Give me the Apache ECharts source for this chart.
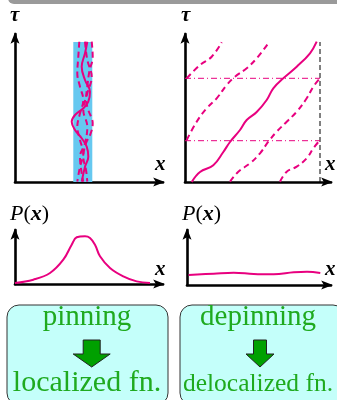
<!DOCTYPE html>
<html>
<head>
<meta charset="utf-8">
<script src="https://cdn.jsdelivr.net/npm/echarts@6/dist/echarts.min.js"></script>
<style>
  html, body { margin: 0; padding: 0; background: #fff; }
  #main { width: 337px; height: 400px; }
</style>
</head>
<body>
<div id="main"></div>
<script>
// pinned worldlines (left panel), units: x right of the axis, tau above the axis
const pinnedBand = [58.3, 77.3, 140];
const pinnedSolid = [[72.3,140.3],[70,128.7],[66.7,115.3],[70,102],[75,90.3],[73.3,80.3],[68.3,73.7],[60,67],[56.7,60.3],[60,52],[66.7,43.7],[71.7,35.3],[73.3,25.3],[70,15.3],[66.7,0.3]];
const pinnedDash1 = [[76.7,140.3],[77.7,125.3],[74.3,110.3],[72.3,95.3],[71,82],[73.3,72],[77.7,58.7],[75.7,48.7],[71,38.7],[68.3,25.3],[71,12],[72.3,0.3]];
const pinnedDash2 = [[64.3,140.3],[63.3,125.3],[62.3,108.7],[65,95.3],[68.3,82],[65,68.7],[62.3,55.3],[65,42],[68.3,28.7],[65,15.3],[62.3,0.3]];
const pinnedDash3 = [[70,140.3],[72.3,122],[76.7,105.3],[72.3,88.7],[68.3,72],[72.3,55.3],[70,38.7],[65,25.3],[66.7,8.7],[68.3,0.3]];

// depinned worldline winding around the periodic box (right panel)
const boxL = 135, boxT = 140;
const windTaus = [41.3, 103.7];
const windSolid = [[6.7,0],[15,10],[28.3,16.7],[38.3,30],[45,40],[55,52],[61.7,62],[71.7,70],[81.7,82],[88.3,93.7],[98.3,103.7],[111.7,115.3],[125,128.7],[131.7,140.3]];
const windDash1 = [[1.7,103.7],[15,117],[26.7,125.3],[36.7,139.7]];
const windDash2 = [[1.7,42],[11.7,60.3],[21.7,73.7],[31.7,83.7],[41.7,97],[50,105.3],[61.7,113.7],[71.7,123.7],[83.3,138.7]];
const windDash3 = [[45,0.3],[53.3,10.3],[65,18.7],[75,28.7],[83.3,40.3],[91.7,50.3],[101.7,60.3],[111.7,70.3],[121.7,83.7],[128.3,95.3],[135,103.7]];
const windDash4 = [[95,0.3],[101.7,10.3],[111.7,15.3],[121.7,23.7],[128.3,33.7],[135,42]];

// distributions P(x)
const pLocal = [[0,1],[18.3,4.3],[35,11],[48.3,24.3],[56.7,39.3],[61.7,46.7],[70,47.7],[75,46],[80,39.3],[85,27.7],[95,16],[108.3,7.7],[121.7,2.6],[135,1]];
const pFlat = [[1.7,10],[26.7,11.3],[46.7,12.3],[66.7,11],[86.7,10.7],[106.7,12.7],[120,13.3],[133.3,12]];

const pink = '#e8007f';
const green = '#1faa1f';
const serif = 'Liberation Serif';

const chart = echarts.init(document.getElementById('main'));

function axisPair(idx, xmax, ymax) {
  const line = {
    show: true,
    symbol: ['none', 'path://M5,0 L10,13 L5,10 L0,13 Z'],
    symbolSize: [9, 12],
    symbolOffset: [0, -4],
    lineStyle: { color: '#000', width: 2.6 }
  };
  const base = {
    type: 'value', min: 0, gridIndex: idx,
    axisLine: line, axisTick: { show: false },
    axisLabel: { show: false }, splitLine: { show: false }
  };
  return {
    x: Object.assign({}, base, { max: xmax }),
    y: Object.assign({}, base, { max: ymax })
  };
}

const axes = [axisPair(0, 148, 148), axisPair(1, 146, 148), axisPair(2, 148, 54), axisPair(3, 144, 55)];

function curve(idx, data, dashed, width) {
  return {
    type: 'line', xAxisIndex: idx, yAxisIndex: idx, data: data,
    smooth: 0.4, showSymbol: false, silent: true,
    lineStyle: { color: pink, width: width || 2, type: dashed ? [6, 4] : 'solid' }
  };
}

const series = [
  {
    type: 'line', xAxisIndex: 0, yAxisIndex: 0, data: [], silent: true,
    markArea: {
      silent: true,
      itemStyle: { color: '#66c8f0' },
      data: [[{ coord: [pinnedBand[0], 0] }, { coord: [pinnedBand[1], pinnedBand[2]] }]]
    }
  },
  curve(0, pinnedDash1, true),
  curve(0, pinnedDash2, true),
  curve(0, pinnedDash3, true),
  curve(0, pinnedSolid, false),
  {
    type: 'line', xAxisIndex: 1, yAxisIndex: 1, showSymbol: false, silent: true,
    data: [[boxL, 0], [boxL, boxT]],
    lineStyle: { color: '#000', width: 1, type: [5, 3] }
  }
];
windTaus.forEach(function (t) {
  series.push({
    type: 'line', xAxisIndex: 1, yAxisIndex: 1, showSymbol: false, silent: true,
    data: [[0, t], [boxL, t]],
    lineStyle: { color: pink, width: 1, type: [6, 3, 1, 3] }
  });
});
series.push(curve(1, windDash1, true), curve(1, windDash2, true), curve(1, windDash3, true), curve(1, windDash4, true), curve(1, windSolid, false));
series.push(curve(2, pLocal, false), curve(3, pFlat, false));

function label(x, y, text, size) {
  return {
    type: 'text', x: x, y: y,
    style: {
      text: text, fill: '#000', verticalAlign: 'middle',
      font: 'italic bold ' + size + 'px "' + serif + '"'
    }
  };
}

function pLabel(x, y) {
  return {
    type: 'text', x: x, y: y,
    style: {
      text: '{i|P}{r|(}{b|x}{r|)}', verticalAlign: 'middle',
      rich: {
        i: { font: 'italic 22px "' + serif + '"', fill: '#000' },
        r: { font: '22px "' + serif + '"', fill: '#000' },
        b: { font: 'italic bold 22px "' + serif + '"', fill: '#000' }
      }
    }
  };
}

function box(x, w) {
  return {
    type: 'rect', shape: { x: x, y: 305, width: w, height: 100, r: 12 },
    style: { fill: '#c4fffa', stroke: '#333', lineWidth: 1 }
  };
}

function arrow(cx, shaftW, headW) {
  const s = shaftW / 2, h = headW / 2;
  return {
    type: 'polygon',
    shape: { points: [[cx - s, 340], [cx + s, 340], [cx + s, 354], [cx + h, 354], [cx, 367], [cx - h, 354], [cx - s, 354]] },
    style: { fill: '#00a000', stroke: '#222', lineWidth: 1 }
  };
}

function word(cx, y, text, size) {
  return {
    type: 'text', x: cx, y: y,
    style: { text: text, fill: green, align: 'center', verticalAlign: 'middle', font: size + 'px "' + serif + '"' }
  };
}

chart.setOption({
  animation: false,
  grid: [
    { left: 15, top: 34, width: 148, height: 148 },
    { left: 185, top: 34, width: 146, height: 148 },
    { left: 15, top: 230, width: 148, height: 54 },
    { left: 187, top: 230, width: 144, height: 55 }
  ],
  xAxis: axes.map(function (a) { return a.x; }),
  yAxis: axes.map(function (a) { return a.y; }),
  series: series,
  graphic: [
    { type: 'rect', shape: { x: 8, y: -10, width: 340, height: 14, r: 6 }, style: { fill: '#9a9a9a' } },
    label(10, 16, 'τ', 21),
    label(181, 16, 'τ', 21),
    label(155, 165, 'x', 21),
    label(325, 165, 'x', 21),
    label(155, 270, 'x', 21),
    label(325, 270, 'x', 21),
    pLabel(10, 214),
    pLabel(182, 214),
    box(7, 161),
    box(180, 165),
    word(87, 317, 'pinning', 29),
    word(258, 317, 'depinning', 29),
    arrow(91.7, 17, 37),
    arrow(260, 13, 28),
    word(87, 383, 'localized fn.', 30),
    word(258, 384, 'delocalized fn.', 25.5)
  ]
});
</script>
</body>
</html>
